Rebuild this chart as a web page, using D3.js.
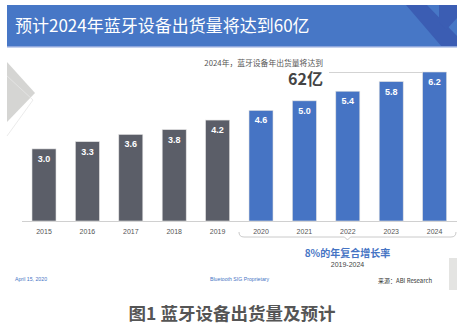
<!DOCTYPE html>
<html><head><meta charset="utf-8">
<script src="https://cdn.jsdelivr.net/npm/d3@7"></script>
<style>
html,body{margin:0;padding:0;background:#fff;}
svg{display:block;}
text{font-family:"Liberation Sans","Noto Sans CJK SC",sans-serif;}
.cjk{font-family:"Noto Sans CJK SC","Liberation Sans",sans-serif;}
</style></head>
<body>
<svg id="c" width="466" height="330"></svg>
<script>
const years = ["2015","2016","2017","2018","2019","2020","2021","2022","2023","2024"];
const values = [3.0,3.3,3.6,3.8,4.2,4.6,5.0,5.4,5.8,6.2];
const forecastStart = "2020";
const title = "预计2024年蓝牙设备出货量将达到60亿";
const noteLine1 = "2024年，蓝牙设备年出货量将达到";
const noteBig = "62亿";
const cagrText = "8%的年复合增长率";
const cagrRange = "2019-2024";
const footerDate = "April 15, 2020";
const footerMid = "Bluetooth SIG Proprietary";
const footerSource = "来源：ABI Research";
const caption = "图1 蓝牙设备出货量及预计";

const svg = d3.select("#c");
const blue = "#4674c4", gray = "#5b5e68";

// title banner
svg.append("rect").attr("x",7).attr("y",5).attr("width",450).attr("height",42).attr("fill","#4777c6");
svg.append("path").attr("d","M406,5 L427,5 L457,36 L457,47 L442,47 Z").attr("fill","#3b5db3");
svg.append("path").attr("d","M439,5 L457,5 L457,18 L446,30 L439,22 Z").attr("fill","#3b5db3");
svg.append("rect").attr("x",7).attr("y",46).attr("width",450).attr("height",1.5).attr("fill","#8ea6dc");
svg.append("text").attr("class","cjk").attr("x",15).attr("y",32).attr("fill","#fff")
  .attr("font-size",17).text(title);

// decorations
svg.append("path").attr("d","M7,62 L35,93 L7,122 Z").attr("fill","#d5d5d3");
svg.append("path").attr("d","M7,76 L33,100 L7,136").attr("fill","none").attr("stroke","#e6e6e6").attr("stroke-width",0.8);
svg.append("rect").attr("x",449).attr("y",258).attr("width",8).attr("height",32).attr("fill","#e4e4e2");

const x = d3.scaleBand().domain(years).range([22.3,456.3]).paddingInner(0.447).paddingOuter(0.2235);
const y = d3.scaleLinear().domain([0,6.2]).range([221,72]);

// axis baseline
svg.append("line").attr("x1",22).attr("x2",457).attr("y1",221.5).attr("y2",221.5).attr("stroke","#d0d0d0").attr("stroke-width",1);

// bars
svg.selectAll("rect.bar").data(years).join("rect").attr("class","bar")
  .attr("x",d=>x(d)).attr("width",x.bandwidth())
  .attr("y",(d,i)=>y(values[i])).attr("height",(d,i)=>y(0)-y(values[i]))
  .attr("fill",d=>+d>=+forecastStart?blue:gray)
  .attr("stroke","#e0e0e0").attr("stroke-width",0.6);

svg.selectAll("text.val").data(years).join("text").attr("class","val")
  .attr("x",d=>x(d)+x.bandwidth()/2).attr("y",(d,i)=>y(values[i])+13)
  .attr("text-anchor","middle").attr("fill","#fff").attr("font-size",9).attr("font-weight","bold")
  .text((d,i)=>values[i].toFixed(1));

// x axis labels
const ax = svg.append("g").attr("transform","translate(0,221)").call(d3.axisBottom(x).tickSize(0).tickPadding(8));
ax.select(".domain").remove();
ax.selectAll("text").attr("font-size",7).attr("fill","#555").attr("font-family","Liberation Sans, sans-serif");

// annotation
const last = years[years.length-1];
svg.append("line").attr("x1",329).attr("x2",x(last)).attr("y1",72.5).attr("y2",72.5).attr("stroke","#c8c8c8").attr("stroke-width",0.8);
svg.append("text").attr("class","cjk").attr("x",323).attr("y",66).attr("text-anchor","end")
  .attr("font-size",7.8).attr("fill","#555").text(noteLine1);
svg.append("text").attr("class","cjk").attr("x",323).attr("y",85).attr("text-anchor","end")
  .attr("font-size",16).attr("font-weight","bold").attr("fill","#444").text(noteBig);

// bracket
const bx0 = x(forecastStart)-10, bx1 = 456, bm = (bx0+bx1)/2;
svg.append("path").attr("d",`M${bx0},232 Q${bx0},237 ${bx0+5},237 L${bm-3},237 L${bm},240 L${bm+3},237 L${bx1-5},237 Q${bx1},237 ${bx1},232`)
  .attr("fill","none").attr("stroke","#c4c4c4").attr("stroke-width",0.9);
svg.append("text").attr("class","cjk").attr("x",bm).attr("y",257).attr("text-anchor","middle")
  .attr("font-size",10).attr("font-weight","bold").attr("fill",blue).text(cagrText);
svg.append("text").attr("x",bm).attr("y",266.5).attr("text-anchor","middle")
  .attr("font-size",7).attr("fill","#444").text(cagrRange);

// footers
svg.append("text").attr("x",15).attr("y",281).attr("font-size",5.2).attr("fill",blue).text(footerDate);
svg.append("text").attr("x",210).attr("y",281).attr("font-size",5.2).attr("fill",blue).text(footerMid);
svg.append("text").attr("class","cjk").attr("x",378).attr("y",283).attr("font-size",6).attr("fill","#333").text(footerSource);

// caption
svg.append("text").attr("class","cjk").attr("x",232).attr("y",320).attr("text-anchor","middle")
  .attr("font-size",17.5).attr("font-weight","bold").attr("fill","#555").text(caption);
</script>
</body></html>
